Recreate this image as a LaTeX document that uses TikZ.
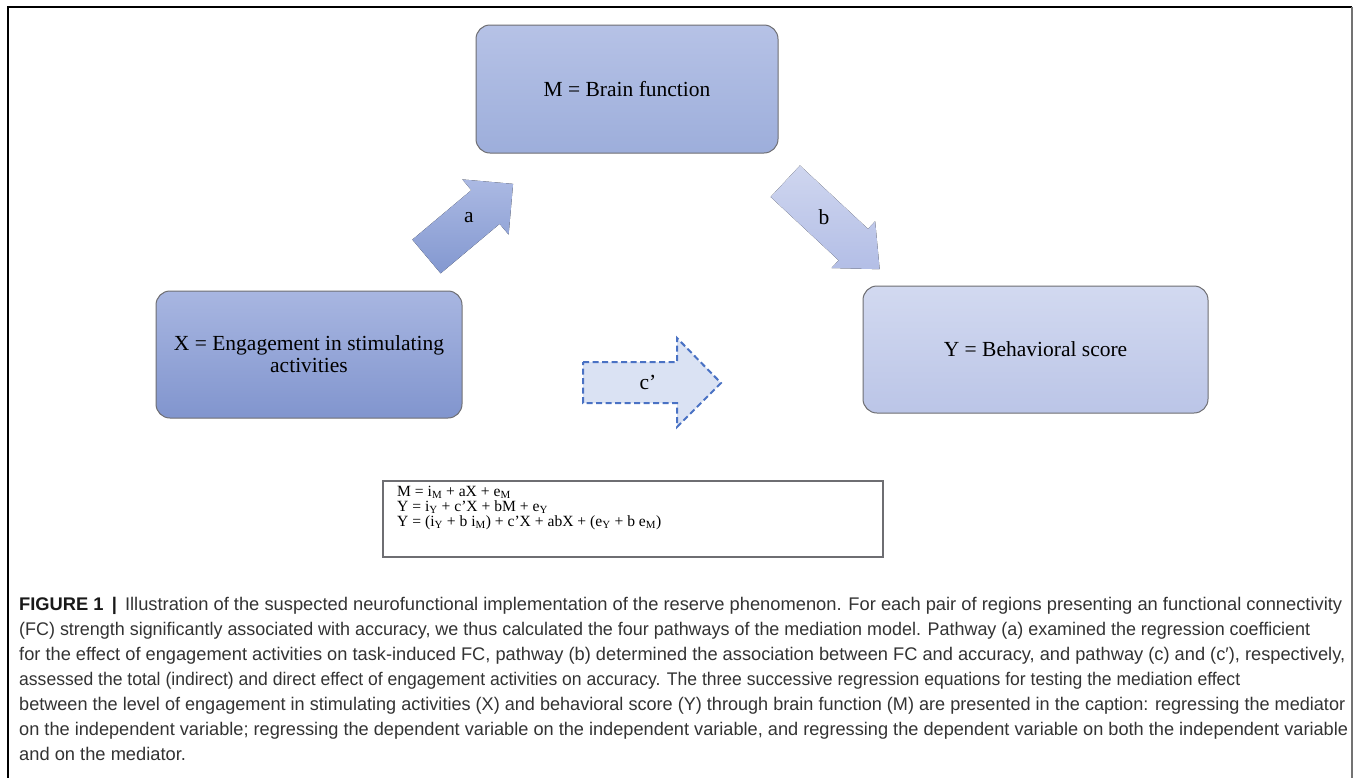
\documentclass[tikz,border=0pt]{standalone}
\usepackage{fontspec}
\usepackage{graphicx}
\setmainfont{Liberation Serif}
\setsansfont{Liberation Sans}
\definecolor{boxline}{HTML}{6E6E72}
\definecolor{mtop}{HTML}{B6C2E6}
\definecolor{mbot}{HTML}{9DAEDB}
\definecolor{xtop}{HTML}{A8B6E1}
\definecolor{xbot}{HTML}{8195CE}
\definecolor{ytop}{HTML}{D2D9F0}
\definecolor{ybot}{HTML}{BBC5E7}
\definecolor{atop}{HTML}{ABB9E3}
\definecolor{abot}{HTML}{8398D0}
\definecolor{btop}{HTML}{CFD6EF}
\definecolor{bbot}{HTML}{B3BEE6}
\definecolor{cfill}{HTML}{DAE2F3}
\definecolor{cline}{HTML}{4A72C4}
\definecolor{captxt}{HTML}{333333}
\newcommand{\sbs}[1]{\textsubscript{#1}}
\newcommand{\capw}[2]{\resizebox{#1pt}{\height}{#2}}
\begin{document}
\begin{tikzpicture}[x=1pt,y=-1pt,
  varbox/.style={draw=boxline, line width=1pt, rounded corners=14pt, inner sep=0pt,
    align=center, font=\fontsize{21.5}{22}\selectfont, text=black},
  lbl/.style={font=\fontsize{21.5}{22}\selectfont, text=black, inner sep=0pt},
  capline/.style={anchor=base west, inner sep=0pt, text=captxt,
    font=\sffamily\fontsize{18.3}{20}\selectfont}]
\useasboundingbox (0,0) rectangle (1356,777);
\fill[white] (0,0) rectangle (1356,777);
% frame
\draw[black, line width=2pt] (8,790) -- (8,6.5) -- (1352,6.5);
\draw[black!55, line width=2pt] (1352,6.5) -- (1352,790);
% boxes
\node[varbox, top color=mtop, bottom color=mbot, minimum width=302pt, minimum height=128pt] (M) at (627,89) {M = Brain function};
\node[varbox, top color=xtop, bottom color=xbot, minimum width=306pt, minimum height=127pt] (X) at (309,354.5) {X = Engagement in stimulating\\activities};
\node[varbox, top color=ytop, bottom color=ybot, minimum width=345pt, minimum height=127pt] (Y) at (1035.5,349.5) {Y = Behavioral score};
% arrow a
\begin{scope}[shift={(426.5,256.5)}, rotate=40]
  \fill[top color=atop, bottom color=abot] (0,-22) -- (77,-22) -- (77,-36) -- (113,0) -- (77,36) -- (77,22) -- (0,22) -- cycle;
\end{scope}
% arrow b
\begin{scope}[shift={(785.3,181.2)}, rotate=-43]
  \fill[top color=btop, bottom color=bbot] (0,-21.5) -- (93,-21.5) -- (93,-32) -- (129,0) -- (93,32) -- (93,21.5) -- (0,21.5) -- cycle;
\end{scope}
% arrow c'
\draw[cline, fill=cfill, line width=2pt, dash pattern=on 6pt off 3.5pt]
  (583,362) -- (677,362) -- (677,338) -- (721,383) -- (677,427) -- (677,403) -- (583,403) -- cycle;
\node[lbl] (la) at (469,218) {a};
\node[lbl] (lb) at (824,217) {b};
\node[lbl] (lc) at (648,382) {c’};
% equations
\draw[boxline, line width=1.3pt] (383,481) rectangle (883,557);
\node[anchor=north west, inner sep=0pt, align=left, font=\fontsize{15.6}{15}\selectfont] (eq) at (397,486)
  {M = i\sbs{M} + aX + e\sbs{M}\\
   Y = i\sbs{Y} + c’X + bM + e\sbs{Y}\\
   Y = (i\sbs{Y} + b i\sbs{M}) + c’X + abX + (e\sbs{Y} + b e\sbs{M})};
% caption
\node[capline] (c1) at (19,610) {\capw{1323}{\textcolor{black!90}{\textbf{FIGURE 1 \,|}}\, Illustration of the suspected neurofunctional implementation of the reserve phenomenon. For each pair of regions presenting an functional connectivity}};
\node[capline] (c2) at (19,635) {\capw{1291}{(FC) strength significantly associated with accuracy, we thus calculated the four pathways of the mediation model. Pathway (a) examined the regression coefficient}};
\node[capline] (c3) at (19,660) {\capw{1326}{for the effect of engagement activities on task-induced FC, pathway (b) determined the association between FC and accuracy, and pathway (c) and (c′), respectively,}};
\node[capline] (c4) at (19,685) {\capw{1221}{assessed the total (indirect) and direct effect of engagement activities on accuracy. The three successive regression equations for testing the mediation effect}};
\node[capline] (c5) at (19,710) {\capw{1326}{between the level of engagement in stimulating activities (X) and behavioral score (Y) through brain function (M) are presented in the caption: regressing the mediator}};
\node[capline] (c6) at (19,735) {\capw{1329}{on the independent variable; regressing the dependent variable on the independent variable, and regressing the dependent variable on both the independent variable}};
\node[capline] (c7) at (19,760) {and on the mediator.};
\end{tikzpicture}
\end{document}
